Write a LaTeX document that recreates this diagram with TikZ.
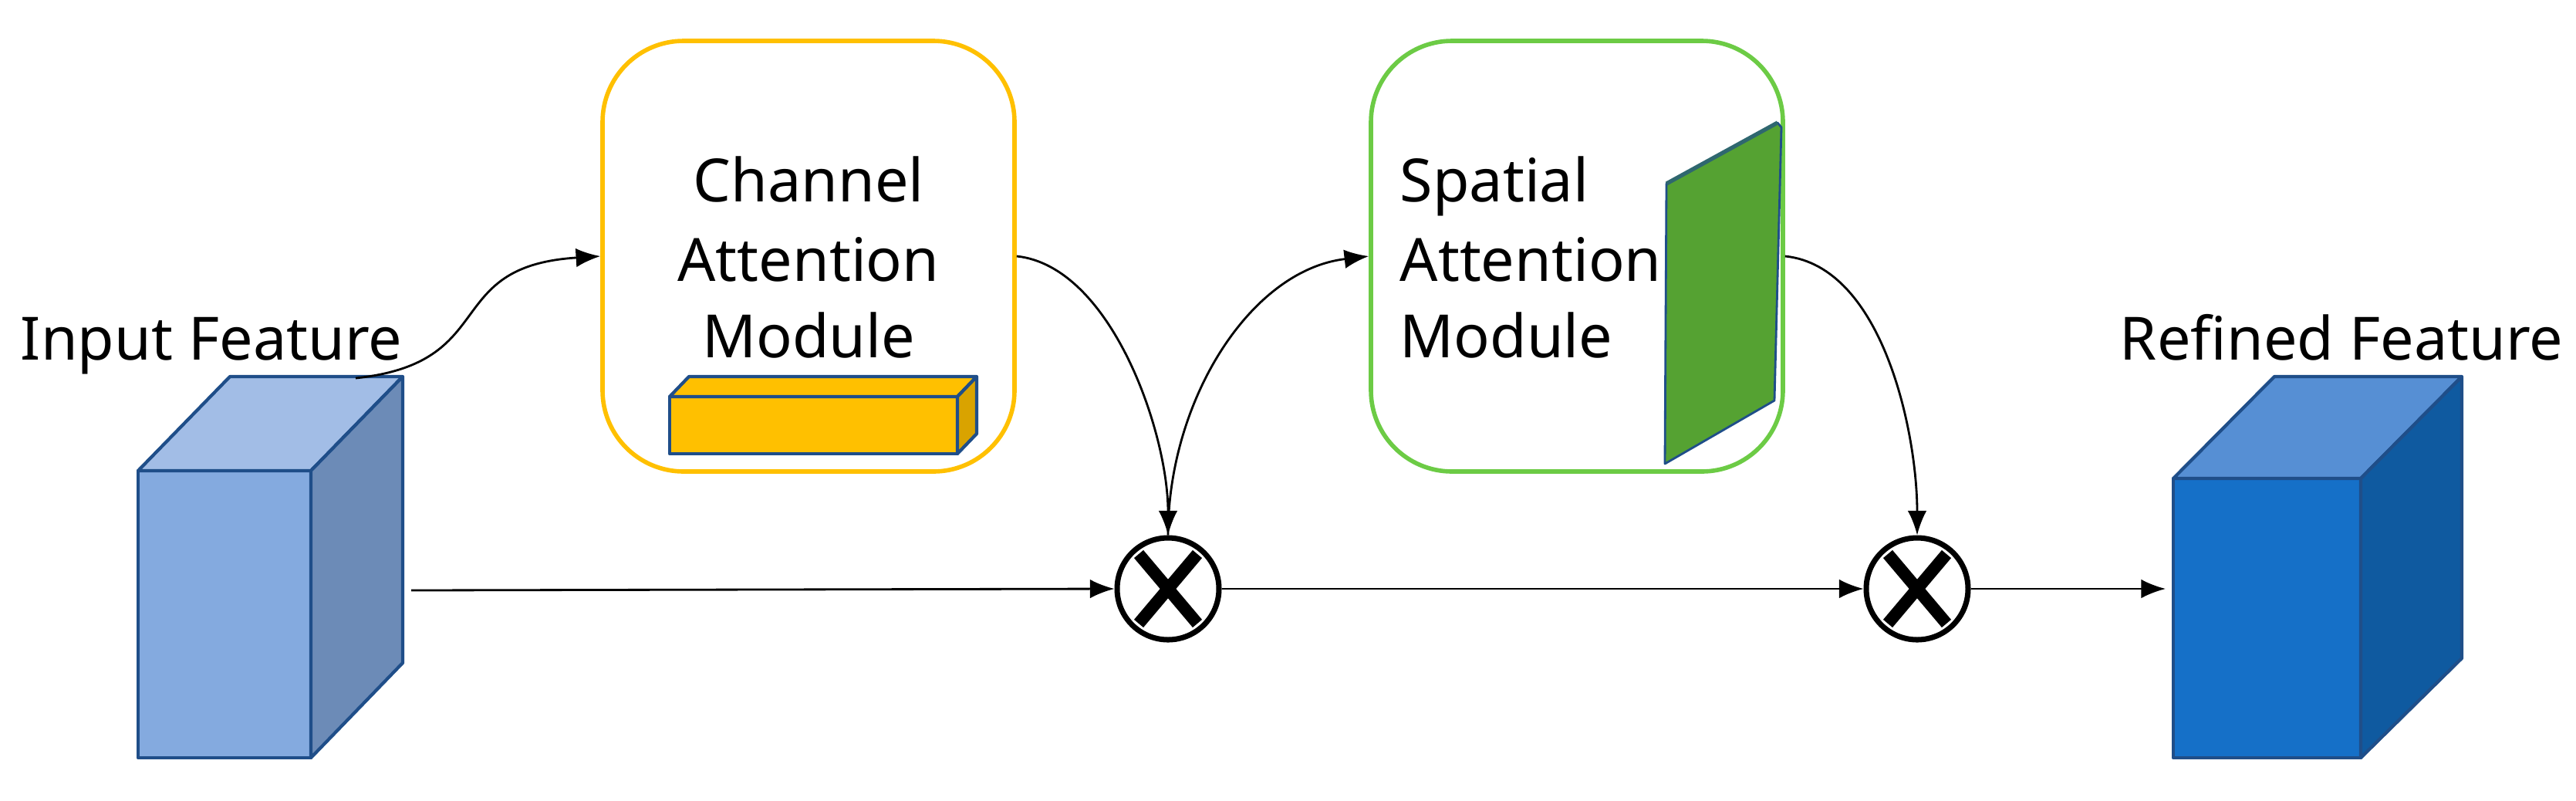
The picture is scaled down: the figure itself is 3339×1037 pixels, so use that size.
\documentclass[tikz,border=0pt]{standalone}
\usepackage{fontspec}
\setmainfont{Noto Sans}
\usetikzlibrary{arrows.meta}
\definecolor{edgeblue}{HTML}{1F4E89}
\definecolor{lf}{HTML}{84AADF}\definecolor{lt}{HTML}{A2BDE6}\definecolor{ls}{HTML}{6C8BB7}
\definecolor{rf}{HTML}{1570C8}\definecolor{rt}{HTML}{568FD4}\definecolor{rs}{HTML}{0F5AA0}
\definecolor{ybox}{HTML}{FFC000}\definecolor{gbox}{HTML}{6CCB45}\definecolor{gplate}{HTML}{55A232}
\begin{document}
\begin{tikzpicture}[x=0.1mm,y=-0.1mm,
  conn/.style={line width=0.8pt,-{Latex[length=9pt,width=7pt]}},
  lbl/.style={font=\fontsize{22}{30}\selectfont,inner sep=0pt,anchor=base},
  module/.style={rounded corners=1.05cm,line width=1.6pt,minimum width=5.34cm,minimum height=5.58cm,inner sep=0pt},
  mult/.style={circle,draw,line width=2pt,minimum size=1.32cm,inner sep=0pt},
  face/.style={draw=edgeblue,line width=1.2pt,line join=round}]
\useasboundingbox (0,0) rectangle (3339,1037);
% left cube
\fill[lf,face] (179,610) rectangle (403,982);
\fill[lt,face] (179,610) -- (298,488) -- (522,488) -- (403,610) -- cycle;
\fill[ls,face] (403,610) -- (522,488) -- (522,859) -- (403,982) -- cycle;
\coordinate (inR) at (533,765);
\coordinate (inT) at (461,490);
\node[lbl] (inlbl) at (274,466) {Input Feature};
% channel module
\node[module,draw=ybox] (cam) at (1048,332) {};
\node[lbl,align=center] (camt) at (1048,261) {Channel};
\node[lbl] (camt2) at (1048,364) {Attention};
\node[lbl] (camt3) at (1048,463) {Module};
\fill[ybox,face] (868,514) rectangle (1241,588);
\fill[ybox,face] (868,514) -- (893,488) -- (1266,488) -- (1241,514) -- cycle;
\fill[ybox!85!black,face] (1241,514) -- (1266,488) -- (1266,562) -- (1241,588) -- cycle;
% spatial module
\node[module,draw=gbox] (sam) at (2044,332) {};
\node[lbl,anchor=base west] (samt) at (1814,261) {Spatial};
\node[lbl,anchor=base west] (samt2) at (1814,364) {Attention};
\node[lbl,anchor=base west] (samt3) at (1814,463) {Module};
\fill[gplate,draw=edgeblue,line width=0.8pt,line join=round] (2160,238) -- (2304,159) -- (2309,165) -- (2300,519) -- (2158,601) -- cycle;
\draw[edgeblue!70!gplate,line width=1.5pt] (2160,238) -- (2304,159);
% multipliers
\node[mult] (m1) at (1514,763) {};
\node[mult] (m2) at (2485,763) {};
\foreach \m in {m1,m2}{
  \draw[line width=4.5pt] ([shift={(-38,-45)}]\m.center) -- ([shift={(38,45)}]\m.center);
  \draw[line width=4.5pt] ([shift={(38,-45)}]\m.center) -- ([shift={(-38,45)}]\m.center);}
% right cube
\fill[rf,face] (2817,620) rectangle (3060,982);
\fill[rt,face] (2817,620) -- (2948,488) -- (3191,488) -- (3060,620) -- cycle;
\fill[rs,face] (3060,620) -- (3191,488) -- (3191,853) -- (3060,982) -- cycle;
\coordinate (outL) at (2807,763);
\node[lbl] (outlbl) at (3035,466) {Refined Feature};
% connectors
\draw[conn] (inT) .. controls (650,470) and (570,345) .. (cam.west);
\draw[conn] (cam.east) .. controls (1440,345) and (1514,560) .. (m1.north);
\draw[conn] (m1.north) .. controls (1514,520) and (1620,350) .. (sam.west);
\draw[conn] (sam.east) .. controls (2440,345) and (2485,560) .. (m2.north);
\draw[conn] (inR) -- (m1.west);
\draw[conn] (m1.east) -- (m2.west);
\draw[conn] (m2.east) -- (outL);
\end{tikzpicture}
\end{document}
